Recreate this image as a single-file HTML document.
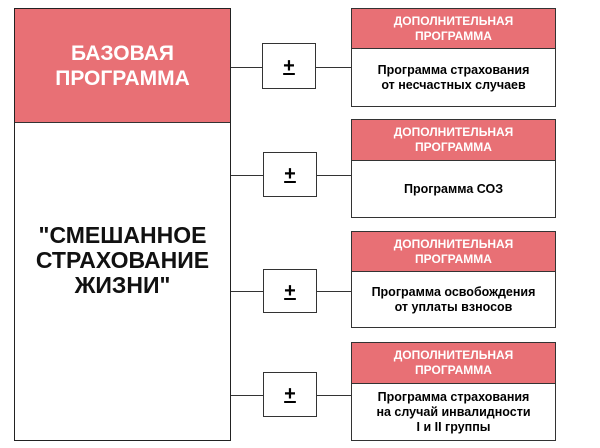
<!DOCTYPE html>
<html><head><meta charset="utf-8"><style>
body{margin:0;width:600px;height:448px;background:#fff;position:relative;font-family:"Liberation Sans",Arial,sans-serif;overflow:hidden}
.a{position:absolute;box-sizing:border-box}
.line{position:absolute;height:1px;background:#333}
.pm{position:absolute;box-sizing:border-box;border:1.5px solid #333;background:#fff;display:flex;align-items:center;justify-content:center;font-weight:bold;font-size:20px}
.rb{position:absolute;box-sizing:border-box;border:1.5px solid #333;background:#fff;left:351px;width:205px}
.hd{background:#e87075;color:#fff;font-weight:bold;font-size:12px;line-height:15px;text-align:center;border-bottom:1.5px solid #333;display:flex;align-items:center;justify-content:center}
.bd{font-weight:bold;font-size:12.5px;line-height:15px;text-align:center;display:flex;align-items:center;justify-content:center}
</style></head><body>
<div class="a" style="left:14px;top:8px;width:217px;height:433px;border:1.5px solid #222;background:#fff"></div>
<div class="a" style="left:15px;top:9px;width:215px;height:114px;background:#e87075;border-bottom:1.5px solid #333;color:#fff;font-weight:bold;font-size:21px;line-height:25px;text-align:center;display:flex;align-items:center;justify-content:center">БАЗОВАЯ<br>ПРОГРАММА</div>
<div class="a" style="left:15px;top:223px;width:215px;color:#111;font-weight:bold;font-size:23px;line-height:25px;text-align:center">"СМЕШАННОЕ<br>СТРАХОВАНИЕ<br>ЖИЗНИ"</div>

<div class="line" style="left:231px;width:120px;top:67px"></div>
<div class="line" style="left:231px;width:120px;top:175px"></div>
<div class="line" style="left:231px;width:120px;top:291px"></div>
<div class="line" style="left:231px;width:120px;top:395px"></div>

<div class="pm" style="left:262px;top:43px;width:54px;height:46px"><span style="text-decoration:underline">+</span></div>
<div class="pm" style="left:263px;top:152px;width:54px;height:45px"><span style="text-decoration:underline">+</span></div>
<div class="pm" style="left:263px;top:269px;width:54px;height:44px"><span style="text-decoration:underline">+</span></div>
<div class="pm" style="left:263px;top:372px;width:54px;height:45px"><span style="text-decoration:underline">+</span></div>

<div class="rb" style="top:8px;height:99px"><div class="hd" style="height:39px">ДОПОЛНИТЕЛЬНАЯ<br>ПРОГРАММА</div><div class="bd" style="height:57px">Программа страхования<br>от несчастных случаев</div></div>
<div class="rb" style="top:119px;height:99px"><div class="hd" style="height:40px">ДОПОЛНИТЕЛЬНАЯ<br>ПРОГРАММА</div><div class="bd" style="height:56px">Программа СОЗ</div></div>
<div class="rb" style="top:231px;height:97px"><div class="hd" style="height:39px">ДОПОЛНИТЕЛЬНАЯ<br>ПРОГРАММА</div><div class="bd" style="height:55px">Программа освобождения<br>от уплаты взносов</div></div>
<div class="rb" style="top:342px;height:99px"><div class="hd" style="height:40px">ДОПОЛНИТЕЛЬНАЯ<br>ПРОГРАММА</div><div class="bd" style="height:56px">Программа страхования<br>на случай инвалидности<br>I и II группы</div></div>
</body></html>
